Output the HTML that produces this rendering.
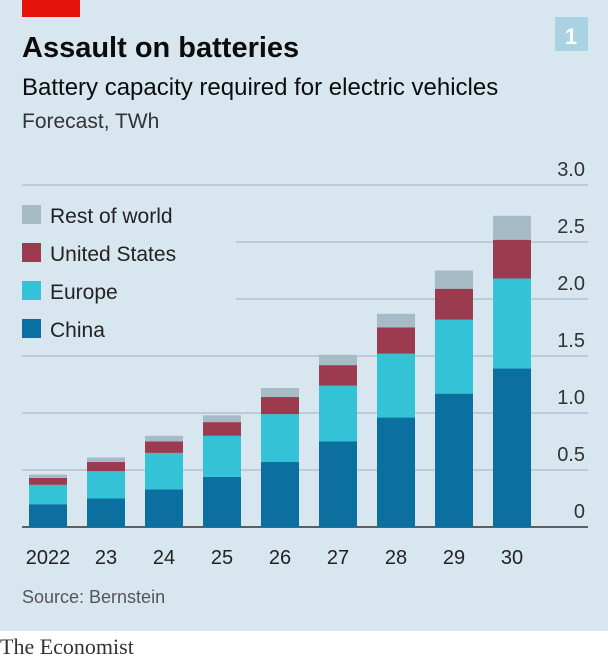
<!DOCTYPE html>
<html><head><meta charset="utf-8"><style>
body{margin:0;width:608px;height:662px;overflow:hidden;background:#fff;font-family:"Liberation Sans",sans-serif}
</style></head><body>
<svg width="608" height="662" xmlns="http://www.w3.org/2000/svg">
<rect x="0" y="0" width="608" height="631" fill="#d7e6ef"/>
<rect x="22" y="0" width="58" height="17" fill="#e3120b"/>
<text x="22" y="57" font-size="29" font-weight="bold" fill="#0c0c0c">Assault on batteries</text>
<rect x="555" y="17" width="33" height="34" fill="#a9d3e3"/>
<text x="571" y="44" font-size="22" font-weight="bold" fill="#fff" text-anchor="middle">1</text>
<text x="22" y="95" font-size="24" fill="#0c0c0c">Battery capacity required for electric vehicles</text>
<text x="22" y="128" font-size="21" fill="#333">Forecast, TWh</text>
<g id="grid"></g>
<rect x="18" y="195" width="218" height="150" fill="#d7e6ef"/>
<g id="bars"></g>
<g id="legend"></g>
<text x="22" y="603" font-size="18" fill="#555">Source: Bernstein</text>
<text x="0" y="654" font-size="22" font-family="Liberation Serif,serif" fill="#333">The Economist</text>
</svg>
<script>
const categories=["2022","23","24","25","26","27","28","29","30"];
const china=[0.20,0.25,0.33,0.44,0.57,0.75,0.96,1.17,1.39];
const europe=[0.17,0.24,0.32,0.36,0.42,0.49,0.56,0.65,0.79];
const usa=[0.06,0.08,0.10,0.12,0.15,0.18,0.23,0.27,0.34];
const rest=[0.03,0.04,0.05,0.06,0.08,0.09,0.12,0.16,0.21];
const ticks=[0,0.5,1.0,1.5,2.0,2.5,3.0];
const NS="http://www.w3.org/2000/svg";
const y=v=>527-v*114;
const xc=i=>48+i*58;
const grid=document.getElementById('grid'),bars=document.getElementById('bars'),leg=document.getElementById('legend');
function mk(tag,attrs,parent){const e=document.createElementNS(NS,tag);for(const k in attrs)e.setAttribute(k,attrs[k]);parent.appendChild(e);return e;}
ticks.forEach(t=>{
  const l=mk('line',{x1:22,x2:588,y1:y(t),y2:y(t),stroke:t===0?'#333':'#9fb1bd','stroke-width':t===0?1.5:1},grid);
  
  
  const tx=mk('text',{x:585,y:y(t)-9,'font-size':20,fill:'#333','text-anchor':'end'},grid);
  tx.textContent=t===0?'0':t.toFixed(1);
  
  
});
const series=[["China",china,"#0b6fa0"],["Europe",europe,"#33c2d6"],["United States",usa,"#9c3a50"],["Rest of world",rest,"#a7bbc7"]];
categories.forEach((c,i)=>{
  let base=0;
  series.forEach(s=>{
    const v=s[1][i];
    const r=mk('rect',{x:xc(i)-19,width:38,y:y(base+v),height:v*114,fill:s[2]},bars);
    
    
    base+=v;
  });
  const t=mk('text',{x:xc(i),y:564,'font-size':20,fill:'#222','text-anchor':'middle'},bars);
  t.textContent=c;
  
  
});
[...series].reverse().forEach((s,k)=>{
  const yy=205+k*38;
  const r=mk('rect',{x:22,y:yy,width:19,height:19,fill:s[2]},leg);
  
  
  const t=mk('text',{x:50,y:yy+18,'font-size':21,fill:'#222'},leg);
  t.textContent=s[0];
  
  
});
</script>
</body></html>
